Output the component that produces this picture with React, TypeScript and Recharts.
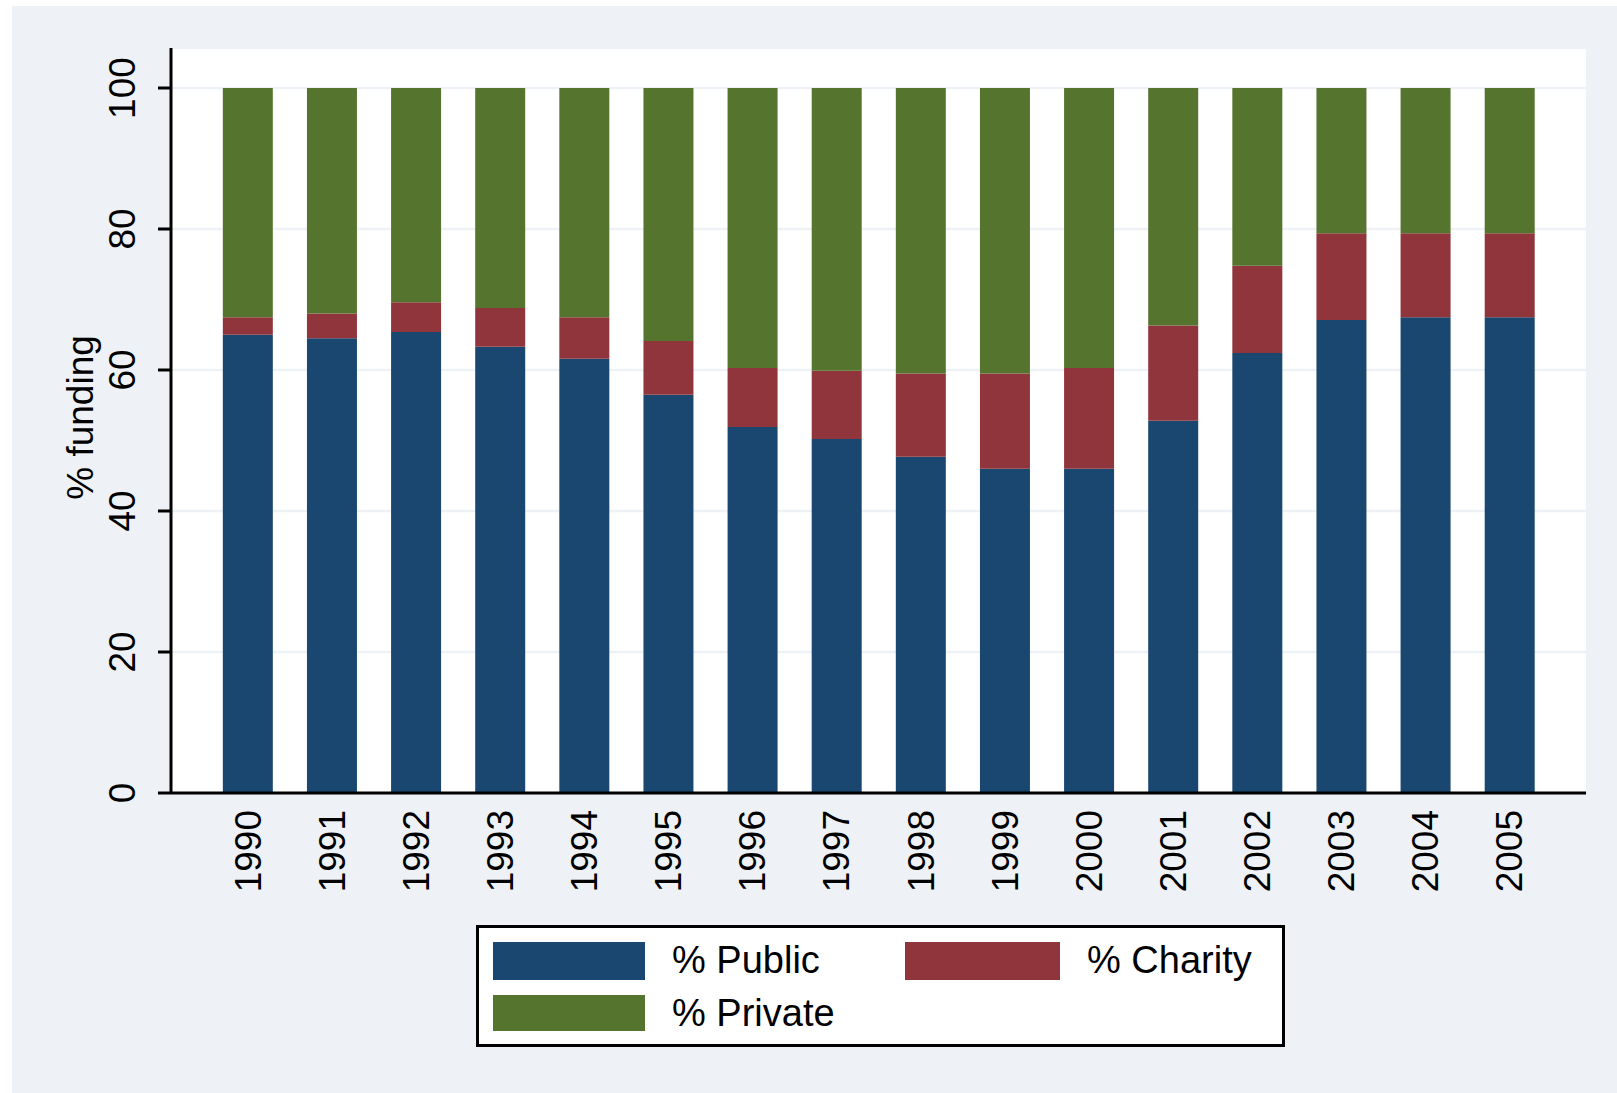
import { BarChart, Bar, XAxis, YAxis, CartesianGrid } from "recharts";

const years = ["1990", "1991", "1992", "1993", "1994", "1995", "1996", "1997", "1998", "1999", "2000", "2001", "2002", "2003", "2004", "2005"];
const publicPct = [65.0, 64.5, 65.4, 63.3, 61.6, 56.5, 51.9, 50.2, 47.7, 46.0, 46.0, 52.8, 62.4, 67.1, 67.5, 67.5];
const charityPct = [2.5, 3.5, 4.2, 5.5, 5.9, 7.6, 8.4, 9.7, 11.8, 13.5, 14.3, 13.5, 12.4, 12.3, 11.9, 11.9];
const privatePct = [32.5, 32.0, 30.4, 31.2, 32.5, 35.9, 39.7, 40.1, 40.5, 40.5, 39.7, 33.7, 25.2, 20.6, 20.6, 20.6];
const yTicks = [0, 20, 40, 60, 80, 100];

const series = [
  { key: "public", name: "% Public", color: "#1A476F" },
  { key: "charity", name: "% Charity", color: "#90353B" },
  { key: "private", name: "% Private", color: "#55752F" },
];

const data = years.map((year, i) => ({
  year,
  public: publicPct[i],
  charity: charityPct[i],
  private: privatePct[i],
}));

const FONT = "'Liberation Sans', Arial, sans-serif";
const BG = "#EEF1F6";

function XTick({ x, y, payload }: any) {
  return (
    <text
      x={x}
      y={y}
      transform={`rotate(-90, ${x}, ${y})`}
      textAnchor="end"
      dominantBaseline="central"
      fontFamily={FONT}
      fontSize={37}
      fill="#000"
    >
      {payload.value}
    </text>
  );
}

function YTick({ x, y, payload }: any) {
  return (
    <text
      x={x}
      y={y}
      transform={`rotate(-90, ${x}, ${y})`}
      textAnchor="middle"
      dominantBaseline="central"
      fontFamily={FONT}
      fontSize={37}
      fill="#000"
    >
      {payload.value}
    </text>
  );
}

function YLabel({ viewBox }: any) {
  const cx = viewBox.x + 80;
  const cy = viewBox.y + viewBox.height / 2 - 3;
  return (
    <text
      x={cx}
      y={cy}
      transform={`rotate(-90, ${cx}, ${cy})`}
      textAnchor="middle"
      dominantBaseline="central"
      fontFamily={FONT}
      fontSize={37}
      fill="#000"
    >
      % funding
    </text>
  );
}

const legendPos = [
  { swatch: { left: 14, top: 14, width: 152, height: 38 }, text: { left: 193, top: 13 } },
  { swatch: { left: 426, top: 14, width: 155, height: 38 }, text: { left: 608, top: 13 } },
  { swatch: { left: 14, top: 67, width: 152, height: 36 }, text: { left: 193, top: 66 } },
];

export default function App() {
  return (
    <div style={{ position: "absolute", left: 0, top: 0, width: 1617, height: 1093, background: "#fff" }}>
      <div style={{ position: "absolute", left: 12, top: 6, width: 1605, height: 1087, background: BG }} />
      <div style={{ position: "absolute", left: 0, top: 0 }}>
        <BarChart
          width={1617}
          height={1093}
          data={data}
          margin={{ top: 48, right: 31, left: 0, bottom: 0 }}
          barCategoryGap="20%"
        >
          <CartesianGrid horizontal vertical={false} fill="#fff" fillOpacity={1} stroke={BG} strokeWidth={2.5} />
          <XAxis
            dataKey="year"
            height={300}
            padding={{ left: 35, right: 34 }}
            tickLine={false}
            tickSize={0}
            tickMargin={17}
            axisLine={{ stroke: "#000", strokeWidth: 3 }}
            tick={<XTick />}
            interval={0}
          />
          <YAxis
            type="number"
            domain={[0, 100]}
            ticks={yTicks}
            width={171}
            padding={{ top: 40 }}
            tickSize={13}
            tickMargin={36}
            tickLine={{ stroke: "#000", strokeWidth: 3 }}
            axisLine={{ stroke: "#000", strokeWidth: 3 }}
            tick={<YTick />}
            label={<YLabel />}
          />
          {series.map((s) => (
            <Bar key={s.key} dataKey={s.key} name={s.name} stackId="a" fill={s.color} isAnimationActive={false} />
          ))}
        </BarChart>
      </div>
      <div
        style={{
          position: "absolute",
          left: 476,
          top: 925,
          width: 803,
          height: 116,
          border: "3px solid #000",
          background: "#fff",
        }}
      >
        {series.map((s, i) => (
          <div key={s.key}>
            <div style={{ position: "absolute", ...legendPos[i].swatch, background: s.color }} />
            <div
              style={{
                position: "absolute",
                left: legendPos[i].text.left,
                top: legendPos[i].text.top,
                fontFamily: FONT,
                fontSize: 38,
                lineHeight: "38px",
                color: "#000",
                whiteSpace: "nowrap",
              }}
            >
              {s.name}
            </div>
          </div>
        ))}
      </div>
    </div>
  );
}
